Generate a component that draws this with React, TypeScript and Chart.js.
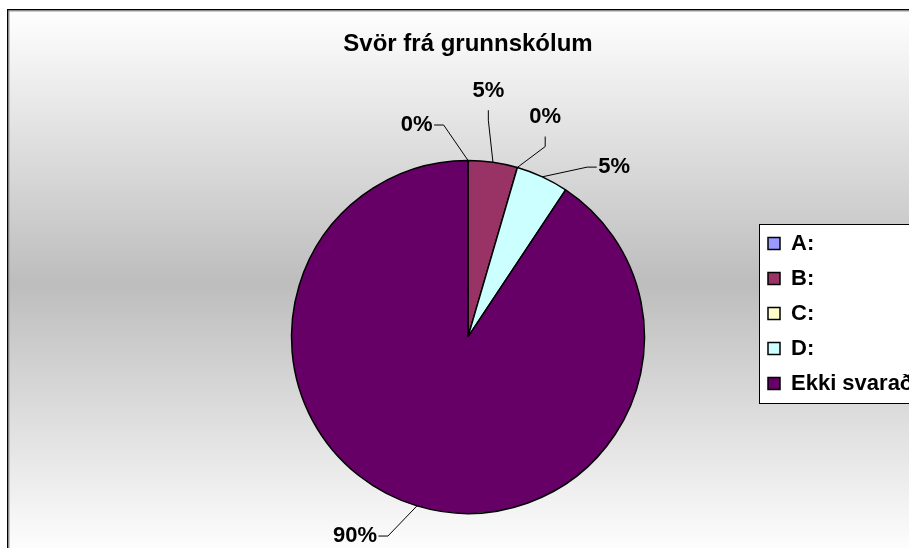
import React, { useEffect, useRef } from 'react';
import { Chart, registerables } from 'chart.js';

Chart.register(...registerables);

// ---- data ----
const chartTitle = 'Svör frá grunnskólum';
const categories = ['A:', 'B:', 'C:', 'D:', 'Ekki svarað'];
const shares = [0, 4.5, 0, 4.8, 90.4]; // percent
const sliceColors = ['#9999FF', '#993366', '#FFFFCC', '#CCFFFF', '#660066'];

// ---- layout / style constants ----
const CANVAS_W = 920;
const CANVAS_H = 609;
const FONT = "'Liberation Sans', Arial, Helvetica, sans-serif";
// label placement relative to each slice's mid angle: extra turn (deg, clockwise) and distance from centre (px)
const labelPlacement = [
  { turn: -13.6, dist: 218 },
  { turn: -3.4, dist: 247 },
  { turn: 3.1, dist: 233 },
  { turn: 15.8, dist: 224 },
  { turn: 12.8, dist: 229 },
];

const backgroundPlugin = {
  id: 'excelBackground',
  beforeDraw(chart: any) {
    const { ctx, width, height } = chart;
    ctx.save();
    const g = ctx.createLinearGradient(0, 0, 0, 548);
    g.addColorStop(0, '#ffffff');
    g.addColorStop(0.5, '#bdbdbd');
    g.addColorStop(1, '#ffffff');
    ctx.fillStyle = g;
    ctx.fillRect(0, 0, width, height);
    ctx.strokeStyle = '#000';
    ctx.lineWidth = 1.5;
    ctx.strokeRect(0.75, 0.75, width - 1.5, height - 1.5);
    ctx.strokeStyle = '#9a9a9a';
    ctx.lineWidth = 1;
    ctx.strokeRect(2, 2, width - 4, height - 4);

    const lg = chart.legend;
    const hbs = lg && lg.legendHitBoxes;
    if (hbs && hbs.length) {
      const first = hbs[0];
      const last = hbs[hbs.length - 1];
      const x0 = Math.round(first.left - 9);
      const y0 = Math.round(first.top + first.height / 2 - 19.5);
      const y1 = Math.round(last.top + last.height / 2 + 19.5);
      ctx.fillStyle = '#ffffff';
      ctx.fillRect(x0, y0, width - x0 + 10, y1 - y0);
      ctx.strokeStyle = '#000';
      ctx.lineWidth = 1;
      ctx.strokeRect(x0 + 0.5, y0 + 0.5, width, y1 - y0);
    }
    ctx.restore();
  },
};

const labelPlugin = {
  id: 'pieLabels',
  afterDatasetsDraw(chart: any) {
    const { ctx } = chart;
    const meta = chart.getDatasetMeta(0);
    const values: number[] = chart.data.datasets[0].data;
    ctx.save();
    ctx.font = `bold 22px ${FONT}`;
    ctx.textAlign = 'center';
    ctx.textBaseline = 'middle';
    meta.data.forEach((arc: any, i: number) => {
      const { x, y, startAngle, endAngle, outerRadius } = arc.getProps(
        ['x', 'y', 'startAngle', 'endAngle', 'outerRadius'],
        true
      );
      const place = labelPlacement[i];
      const mid = (startAngle + endAngle) / 2;
      const ang = mid + (place.turn * Math.PI) / 180;
      const lx = x + place.dist * Math.cos(ang);
      const ly = y + place.dist * Math.sin(ang);
      const ax = x + outerRadius * Math.cos(mid);
      const ay = y + outerRadius * Math.sin(mid);
      const text = `${Math.round(values[i])}%`;
      const w = ctx.measureText(text).width;

      ctx.strokeStyle = '#000';
      ctx.lineWidth = 1;
      ctx.beginPath();
      if (Math.abs(lx - ax) > Math.abs(ly - ay)) {
        const s = ax > lx ? 1 : -1;
        const sx = lx + s * (w / 2 + 1.5);
        const ex = sx + s * 9.5;
        ctx.moveTo(sx, ly);
        ctx.lineTo(ex, ly);
        ctx.lineTo(ax, ay);
      } else {
        const s = ay > ly ? 1 : -1;
        const sy = ly + s * 19.5;
        const ey = sy + s * 10;
        ctx.moveTo(lx, sy);
        ctx.lineTo(lx, ey);
        ctx.lineTo(ax, ay);
      }
      ctx.stroke();

      ctx.fillStyle = '#000';
      ctx.fillText(text, lx, ly);
    });
    ctx.restore();
  },
};

export default function App() {
  const canvasRef = useRef<HTMLCanvasElement | null>(null);

  useEffect(() => {
    if (!canvasRef.current) return;
    Chart.defaults.font.family = FONT;
    const chart = new Chart(canvasRef.current, {
      type: 'pie',
      data: {
        labels: categories,
        datasets: [
          {
            data: shares,
            backgroundColor: sliceColors,
            borderColor: '#000000',
            borderWidth: 1.5,
            radius: 176.5,
          } as any,
        ],
      },
      options: {
        responsive: false,
        animation: false,
        events: [],
        layout: { padding: { left: 174, right: 18, top: 0, bottom: 0 } },
        plugins: {
          title: {
            display: true,
            text: chartTitle,
            fullSize: false,
            position: 'top',
            color: '#000',
            font: { size: 24, weight: 'bold', lineHeight: 0.9, family: FONT },
            padding: { top: 25, bottom: 0.2 },
          },
          legend: {
            display: true,
            position: 'right',
            align: 'center',
            maxWidth: 154,
            labels: {
              boxWidth: 12,
              boxHeight: 12,
              padding: 13,
              color: '#000',
              font: { size: 22, weight: 'bold', family: FONT },
            },
          },
          tooltip: { enabled: false },
        },
      },
      plugins: [backgroundPlugin, labelPlugin],
    });
    return () => chart.destroy();
  }, []);

  return (
    <div
      style={{
        position: 'fixed',
        left: 0,
        top: 0,
        width: 909,
        height: 548,
        overflow: 'hidden',
        background: '#ffffff',
      }}
    >
      <canvas
        ref={canvasRef}
        width={CANVAS_W}
        height={CANVAS_H}
        style={{ position: 'absolute', left: 7, top: 9, width: CANVAS_W, height: CANVAS_H }}
      />
    </div>
  );
}
